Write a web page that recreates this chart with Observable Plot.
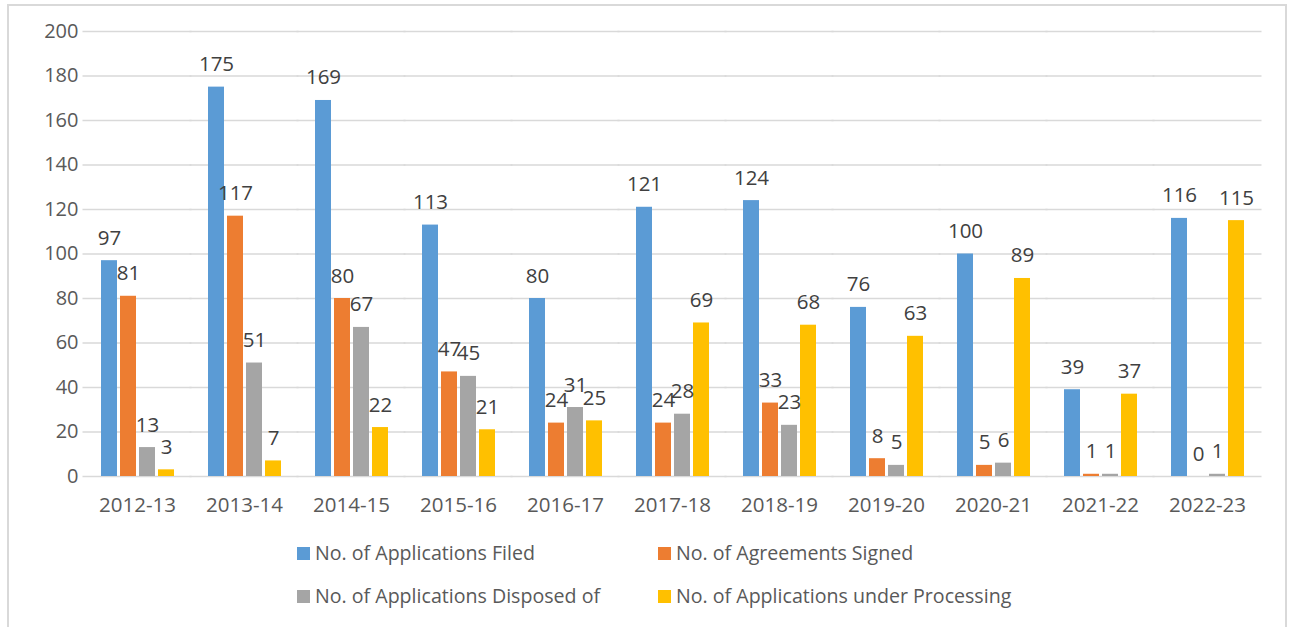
<!DOCTYPE html>
<html>
<head>
<meta charset="utf-8">
<script src="https://cdn.jsdelivr.net/npm/d3@7"></script>
<script src="https://cdn.jsdelivr.net/npm/@observablehq/plot@0.6"></script>
<style>
  html, body { margin: 0; padding: 0; background: #fff; width: 1291px; height: 627px; overflow: hidden; }
  #frame { position: absolute; left: 7px; top: 4px; width: 1280px; height: 700px; border: 2px solid #d9d9d9; box-sizing: border-box; }
  #chart { position: absolute; left: 0; top: 0; }
  .legend { position: absolute; font-family: "Open Sans", sans-serif; font-size: 19.6px; color: #595959; white-space: nowrap; line-height: 1; }
  .legend .sw { display: inline-block; width: 13px; height: 13px; margin-right: 5px; vertical-align: 0px; }
</style>
</head>
<body>
<div id="frame"></div>
<div id="chart"></div>
<div id="legend"></div>
<script>
const categories = ["2012-13","2013-14","2014-15","2015-16","2016-17","2017-18","2018-19","2019-20","2020-21","2021-22","2022-23"];
const seriesNames = ["No. of Applications Filed","No. of Agreements Signed","No. of Applications Disposed of","No. of Applications under Processing"];
const filed      = [97, 175, 169, 113, 80, 121, 124, 76, 100, 39, 116];
const signed     = [81, 117, 80, 47, 24, 24, 33, 8, 5, 1, 0];
const disposed   = [13, 51, 67, 45, 31, 28, 23, 5, 6, 1, 1];
const processing = [3, 7, 22, 21, 25, 69, 68, 63, 89, 37, 115];
const yTicks = [0, 20, 40, 60, 80, 100, 120, 140, 160, 180, 200];
const colors = ["#5b9bd5", "#ed7d31", "#a5a5a5", "#ffc000"];

const seriesValues = [filed, signed, disposed, processing];
const data = categories.flatMap((c, i) =>
  seriesNames.map((s, j) => ({ year: c, series: s, value: seriesValues[j][i] }))
);

const chart = Plot.plot({
  width: 1291,
  height: 520,
  marginLeft: 80,
  marginRight: 28,
  marginTop: 31,
  marginBottom: 44,
  style: { fontFamily: "Open Sans, sans-serif", fontSize: "20px", color: "#595959", background: "transparent" },
  fx: { domain: categories, paddingInner: 0.31, paddingOuter: 0.155, label: null },
  x: { domain: seriesNames, paddingInner: 0.18, paddingOuter: 0, axis: null },
  y: { domain: [0, 200], label: null },
  color: { domain: seriesNames, range: colors },
  marks: [
    Plot.ruleY(yTicks, { stroke: "#d9d9d9", strokeWidth: 1.5, insetLeft: -17.5, insetRight: -17.5 }),
    Plot.axisY(yTicks, { tickSize: 0, tickPadding: 22, label: null, fill: "#595959", fontSize: 20 }),
    Plot.axisFx({ anchor: "bottom", tickSize: 0, tickPadding: 21, label: null, fill: "#595959", fontSize: 20.5 }),
    Plot.barY(data, { fx: "year", x: "series", y: "value", fill: "series" }),
    Plot.text(data, { fx: "year", x: "series", y: "value", text: d => String(d.value), lineAnchor: "bottom", dy: -16, fill: "#404040", fontSize: 20.5 })
  ]
});
document.getElementById("chart").appendChild(chart);

const legendPos = [[297, 554], [658, 554], [297, 597], [658, 597]];
const legend = document.getElementById("legend");
seriesNames.forEach((s, i) => {
  const d = document.createElement("div");
  d.className = "legend";
  d.style.left = legendPos[i][0] + "px";
  d.style.top = (legendPos[i][1] - 11) + "px";
  d.innerHTML = `<span class="sw" style="background:${colors[i]}"></span>${s}`;
  legend.appendChild(d);
});
</script>
</body>
</html>
